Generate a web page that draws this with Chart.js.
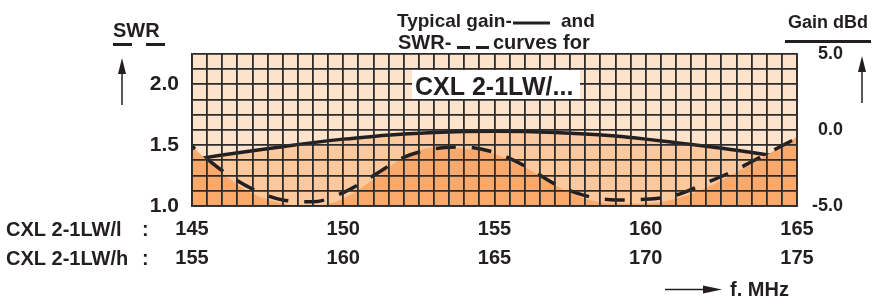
<!DOCTYPE html>
<html>
<head>
  <title>CXL 2-1LW gain / SWR</title>
  <style>
    body { margin: 0; background: #fff; }
    #wrap { width: 872px; height: 298px; }
  </style>
  <script src="https://cdn.jsdelivr.net/npm/chart.js@4"></script>
</head>
<body>
  <div id="wrap"><canvas id="chart"></canvas></div>
  <script>
    // frequency in MHz (CXL 2-1LW/l scale)
    const freqs = [145, 146, 147, 148, 149, 150, 151, 152, 153, 154, 155,
                   156, 157, 158, 159, 160, 161, 162, 163, 164, 165];
    // gain dBd, solid line
    const gain = [-1.95, -1.65, -1.37, -1.1, -0.83, -0.6, -0.42, -0.27, -0.16, -0.1, -0.08,
                  -0.1, -0.16, -0.26, -0.4, -0.6, -0.83, -1.07, -1.33, -1.63, -1.97];
    // SWR, dashed line
    const swr = [1.49, 1.29, 1.14, 1.05, 1.035, 1.11, 1.25, 1.40, 1.47, 1.485, 1.44,
                 1.33, 1.18, 1.085, 1.05, 1.055, 1.09, 1.19, 1.30, 1.43, 1.56];
    // orange shading under the SWR curve
    const swrShade = [1.49, 1.27, 1.10, 1.02, 1.0, 1.06, 1.22, 1.40, 1.48, 1.47, 1.43,
                      1.32, 1.17, 1.06, 1.02, 1.02, 1.06, 1.15, 1.28, 1.42, 1.57];
    // tick labels
    const lowTicks = [145, 150, 155, 160, 165];
    const highTicks = [155, 160, 165, 170, 175];
    const swrTicks = [1.0, 1.5, 2.0];
    const gainTicks = [5, 0, -5];

    const INK = '#231f20';
    const GRID = '#2b2b2b';
    const FONT = '"Liberation Sans", Arial, sans-serif';

    const pts = (arr) => freqs.map((f, i) => ({ x: f, y: arr[i] }));

    const decor = {
      id: 'decor',
      beforeDraw(chart) {
        const { ctx, chartArea: a } = chart;
        ctx.save();
        ctx.fillStyle = '#fee3cc';
        ctx.fillRect(a.left, a.top, a.right - a.left, a.bottom - a.top);
        ctx.restore();
      },
      afterDraw(chart) {
        const { ctx, chartArea: a } = chart;
        ctx.save();
        ctx.fillStyle = INK;
        ctx.strokeStyle = INK;
        ctx.textBaseline = 'alphabetic';
        ctx.textAlign = 'left';

        const seg = (x1, y1, x2, y2, w) => {
          ctx.lineWidth = w;
          ctx.beginPath();
          ctx.moveTo(x1, y1);
          ctx.lineTo(x2, y2);
          ctx.stroke();
        };
        const upArrow = (x, top, bottom) => {
          seg(x, top + 10, x, bottom, 1.5);
          ctx.beginPath();
          ctx.moveTo(x, top);
          ctx.lineTo(x - 4, top + 16);
          ctx.lineTo(x + 4, top + 16);
          ctx.closePath();
          ctx.fill();
        };

        // left axis heading
        ctx.font = 'bold 20px ' + FONT;
        ctx.fillText('SWR', 113, 37);
        seg(113, 44.5, 132, 44.5, 3);
        seg(146, 44.5, 165, 44.5, 3);
        upArrow(122, 58, 105);

        // right axis heading
        ctx.font = 'bold 18px ' + FONT;
        ctx.fillText('Gain dBd', 788, 28);
        seg(785, 41.5, 871, 41.5, 3);
        upArrow(862, 56, 103);

        // title
        ctx.font = 'bold 19px ' + FONT;
        ctx.fillText('Typical gain-', 397, 27);
        seg(513, 23, 550, 23, 3);
        ctx.fillText('and', 561, 27);
        ctx.font = 'bold 20px ' + FONT;
        ctx.fillText('SWR-', 398, 49);
        seg(457, 47.5, 470, 47.5, 3);
        seg(476, 47.5, 489, 47.5, 3);
        ctx.fillText('curves for', 493, 49);

        // model box
        ctx.fillStyle = '#ffffff';
        ctx.fillRect(412, 70, 168, 29);
        ctx.fillStyle = INK;
        ctx.font = 'bold 25px ' + FONT;
        ctx.fillText('CXL 2-1LW/...', 415, 95);

        // row captions for the two frequency scales
        ctx.font = 'bold 20px ' + FONT;
        ctx.textBaseline = 'middle';
        ctx.fillText('CXL 2-1LW/l', 6, a.bottom + 24);
        ctx.fillText(':', 142, a.bottom + 24);
        ctx.fillText('CXL 2-1LW/h', 6, a.bottom + 53);
        ctx.fillText(':', 142, a.bottom + 53);

        // frequency arrow
        seg(665, 289.5, 706, 289.5, 1.5);
        ctx.beginPath();
        ctx.moveTo(722, 289.5);
        ctx.lineTo(703, 285.5);
        ctx.lineTo(703, 293.5);
        ctx.closePath();
        ctx.fill();
        ctx.textBaseline = 'alphabetic';
        ctx.fillText('f. MHz', 730, 296);
        ctx.restore();
      }
    };

    new Chart(document.getElementById('chart'), {
      type: 'line',
      data: {
        datasets: [
          {
            label: 'SWR',
            data: pts(swr),
            yAxisID: 'swr',
            borderColor: INK,
            borderWidth: 3.5,
            borderDash: [20, 16],
            borderDashOffset: 16,
            fill: false,
            pointRadius: 0,
            cubicInterpolationMode: 'monotone'
          },
          {
            label: 'SWR shade',
            data: pts(swrShade),
            yAxisID: 'swr',
            borderWidth: 0,
            borderColor: 'rgba(0,0,0,0)',
            backgroundColor: '#f8a96b',
            fill: 'start',
            pointRadius: 0,
            cubicInterpolationMode: 'monotone'
          },
          {
            label: 'Gain',
            data: pts(gain),
            yAxisID: 'gain',
            borderColor: INK,
            borderWidth: 3.5,
            backgroundColor: '#fcc99e',
            fill: 'start',
            pointRadius: 0,
            cubicInterpolationMode: 'monotone'
          }
        ]
      },
      options: {
        responsive: true,
        maintainAspectRatio: false,
        animation: false,
        layout: { padding: { top: 54, right: 29, left: 0, bottom: 0 } },
        plugins: {
          legend: { display: false },
          tooltip: { enabled: false }
        },
        scales: {
          x: {
            type: 'linear',
            min: 145,
            max: 165,
            afterFit: (s) => { s.height = 92; },
            grid: { color: GRID, lineWidth: 1.8, drawTicks: false, z: 1 },
            border: { color: GRID, width: 1.8, z: 1 },
            ticks: {
              stepSize: 0.5,
              autoSkip: false,
              maxRotation: 0,
              padding: 9,
              color: INK,
              font: { family: FONT, size: 20, weight: 'bold', lineHeight: 1.45 },
              callback: (v) => {
                const i = lowTicks.indexOf(v);
                return i < 0 ? '' : [String(lowTicks[i]), String(highTicks[i])];
              }
            }
          },
          swr: {
            type: 'linear',
            position: 'left',
            min: 1.0,
            max: 2.25,
            afterFit: (s) => { s.width = 192; },
            grid: { color: GRID, lineWidth: 1.8, drawTicks: false, z: 1 },
            border: { color: GRID, width: 1.8, z: 1 },
            ticks: {
              stepSize: 0.125,
              autoSkip: false,
              padding: 13,
              color: INK,
              font: { family: FONT, size: 21, weight: 'bold' },
              callback: (v) => swrTicks.some((t) => Math.abs(t - v) < 1e-6) ? v.toFixed(1) : ''
            }
          },
          gain: {
            type: 'linear',
            position: 'right',
            min: -5,
            max: 5,
            afterFit: (s) => { s.width = 46; },
            grid: { display: false, drawTicks: false },
            border: { color: GRID, width: 1.8, z: 1 },
            ticks: {
              stepSize: 5,
              crossAlign: 'far',
              padding: 0,
              color: INK,
              font: { family: FONT, size: 18, weight: 'bold' },
              callback: (v) => gainTicks.includes(v) ? v.toFixed(1) : ''
            }
          }
        }
      },
      plugins: [decor]
    });
  </script>
</body>
</html>
